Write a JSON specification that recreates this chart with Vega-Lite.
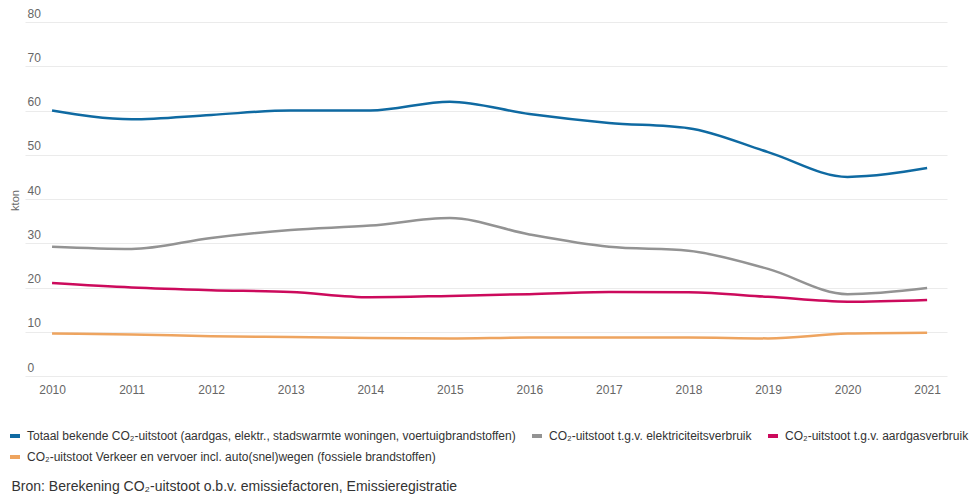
{
  "$schema": "https://vega.github.io/schema/vega-lite/v6.json",
  "width": 922,
  "height": 354,
  "autosize": {"type": "none"},
  "padding": {"left": 25, "top": 22, "right": 31, "bottom": 121},
  "background": "white",
  "config": {
    "font": "Liberation Sans",
    "view": {"stroke": null}
  },
  "data": {
    "values": [
      {"jaar": 2010, "reeks": "Totaal bekende CO₂-uitstoot (aardgas, elektr., stadswarmte woningen, voertuigbrandstoffen)", "kton": 60.0},
      {"jaar": 2011, "reeks": "Totaal bekende CO₂-uitstoot (aardgas, elektr., stadswarmte woningen, voertuigbrandstoffen)", "kton": 58.0},
      {"jaar": 2012, "reeks": "Totaal bekende CO₂-uitstoot (aardgas, elektr., stadswarmte woningen, voertuigbrandstoffen)", "kton": 59.0},
      {"jaar": 2013, "reeks": "Totaal bekende CO₂-uitstoot (aardgas, elektr., stadswarmte woningen, voertuigbrandstoffen)", "kton": 60.0},
      {"jaar": 2014, "reeks": "Totaal bekende CO₂-uitstoot (aardgas, elektr., stadswarmte woningen, voertuigbrandstoffen)", "kton": 60.0},
      {"jaar": 2015, "reeks": "Totaal bekende CO₂-uitstoot (aardgas, elektr., stadswarmte woningen, voertuigbrandstoffen)", "kton": 62.0},
      {"jaar": 2016, "reeks": "Totaal bekende CO₂-uitstoot (aardgas, elektr., stadswarmte woningen, voertuigbrandstoffen)", "kton": 59.2},
      {"jaar": 2017, "reeks": "Totaal bekende CO₂-uitstoot (aardgas, elektr., stadswarmte woningen, voertuigbrandstoffen)", "kton": 57.2},
      {"jaar": 2018, "reeks": "Totaal bekende CO₂-uitstoot (aardgas, elektr., stadswarmte woningen, voertuigbrandstoffen)", "kton": 56.0},
      {"jaar": 2019, "reeks": "Totaal bekende CO₂-uitstoot (aardgas, elektr., stadswarmte woningen, voertuigbrandstoffen)", "kton": 50.6},
      {"jaar": 2020, "reeks": "Totaal bekende CO₂-uitstoot (aardgas, elektr., stadswarmte woningen, voertuigbrandstoffen)", "kton": 45.0},
      {"jaar": 2021, "reeks": "Totaal bekende CO₂-uitstoot (aardgas, elektr., stadswarmte woningen, voertuigbrandstoffen)", "kton": 47.0},
      {"jaar": 2010, "reeks": "CO₂-uitstoot t.g.v. elektriciteitsverbruik", "kton": 29.2},
      {"jaar": 2011, "reeks": "CO₂-uitstoot t.g.v. elektriciteitsverbruik", "kton": 28.7},
      {"jaar": 2012, "reeks": "CO₂-uitstoot t.g.v. elektriciteitsverbruik", "kton": 31.2},
      {"jaar": 2013, "reeks": "CO₂-uitstoot t.g.v. elektriciteitsverbruik", "kton": 33.0},
      {"jaar": 2014, "reeks": "CO₂-uitstoot t.g.v. elektriciteitsverbruik", "kton": 34.0},
      {"jaar": 2015, "reeks": "CO₂-uitstoot t.g.v. elektriciteitsverbruik", "kton": 35.7},
      {"jaar": 2016, "reeks": "CO₂-uitstoot t.g.v. elektriciteitsverbruik", "kton": 32.0},
      {"jaar": 2017, "reeks": "CO₂-uitstoot t.g.v. elektriciteitsverbruik", "kton": 29.2},
      {"jaar": 2018, "reeks": "CO₂-uitstoot t.g.v. elektriciteitsverbruik", "kton": 28.3},
      {"jaar": 2019, "reeks": "CO₂-uitstoot t.g.v. elektriciteitsverbruik", "kton": 24.2},
      {"jaar": 2020, "reeks": "CO₂-uitstoot t.g.v. elektriciteitsverbruik", "kton": 18.5},
      {"jaar": 2021, "reeks": "CO₂-uitstoot t.g.v. elektriciteitsverbruik", "kton": 19.9},
      {"jaar": 2010, "reeks": "CO₂-uitstoot t.g.v. aardgasverbruik", "kton": 21.0},
      {"jaar": 2011, "reeks": "CO₂-uitstoot t.g.v. aardgasverbruik", "kton": 20.0},
      {"jaar": 2012, "reeks": "CO₂-uitstoot t.g.v. aardgasverbruik", "kton": 19.4},
      {"jaar": 2013, "reeks": "CO₂-uitstoot t.g.v. aardgasverbruik", "kton": 19.0},
      {"jaar": 2014, "reeks": "CO₂-uitstoot t.g.v. aardgasverbruik", "kton": 17.8},
      {"jaar": 2015, "reeks": "CO₂-uitstoot t.g.v. aardgasverbruik", "kton": 18.1},
      {"jaar": 2016, "reeks": "CO₂-uitstoot t.g.v. aardgasverbruik", "kton": 18.5},
      {"jaar": 2017, "reeks": "CO₂-uitstoot t.g.v. aardgasverbruik", "kton": 19.0},
      {"jaar": 2018, "reeks": "CO₂-uitstoot t.g.v. aardgasverbruik", "kton": 18.9},
      {"jaar": 2019, "reeks": "CO₂-uitstoot t.g.v. aardgasverbruik", "kton": 17.9},
      {"jaar": 2020, "reeks": "CO₂-uitstoot t.g.v. aardgasverbruik", "kton": 16.8},
      {"jaar": 2021, "reeks": "CO₂-uitstoot t.g.v. aardgasverbruik", "kton": 17.2},
      {"jaar": 2010, "reeks": "CO₂-uitstoot Verkeer en vervoer incl. auto(snel)wegen (fossiele brandstoffen)", "kton": 9.6},
      {"jaar": 2011, "reeks": "CO₂-uitstoot Verkeer en vervoer incl. auto(snel)wegen (fossiele brandstoffen)", "kton": 9.4},
      {"jaar": 2012, "reeks": "CO₂-uitstoot Verkeer en vervoer incl. auto(snel)wegen (fossiele brandstoffen)", "kton": 9.0},
      {"jaar": 2013, "reeks": "CO₂-uitstoot Verkeer en vervoer incl. auto(snel)wegen (fossiele brandstoffen)", "kton": 8.8},
      {"jaar": 2014, "reeks": "CO₂-uitstoot Verkeer en vervoer incl. auto(snel)wegen (fossiele brandstoffen)", "kton": 8.6},
      {"jaar": 2015, "reeks": "CO₂-uitstoot Verkeer en vervoer incl. auto(snel)wegen (fossiele brandstoffen)", "kton": 8.5},
      {"jaar": 2016, "reeks": "CO₂-uitstoot Verkeer en vervoer incl. auto(snel)wegen (fossiele brandstoffen)", "kton": 8.7},
      {"jaar": 2017, "reeks": "CO₂-uitstoot Verkeer en vervoer incl. auto(snel)wegen (fossiele brandstoffen)", "kton": 8.7},
      {"jaar": 2018, "reeks": "CO₂-uitstoot Verkeer en vervoer incl. auto(snel)wegen (fossiele brandstoffen)", "kton": 8.7},
      {"jaar": 2019, "reeks": "CO₂-uitstoot Verkeer en vervoer incl. auto(snel)wegen (fossiele brandstoffen)", "kton": 8.5},
      {"jaar": 2020, "reeks": "CO₂-uitstoot Verkeer en vervoer incl. auto(snel)wegen (fossiele brandstoffen)", "kton": 9.6},
      {"jaar": 2021, "reeks": "CO₂-uitstoot Verkeer en vervoer incl. auto(snel)wegen (fossiele brandstoffen)", "kton": 9.8}
    ]
  },
  "mark": {"type": "line", "interpolate": "monotone", "strokeWidth": 2.5},
  "encoding": {
    "x": {
      "field": "jaar",
      "type": "quantitative",
      "scale": {"domain": [2009.66, 2021.25], "nice": false, "zero": false},
      "axis": {
        "values": [2010, 2011, 2012, 2013, 2014, 2015, 2016, 2017, 2018, 2019, 2020, 2021],
        "format": "d",
        "grid": false,
        "domain": false,
        "ticks": false,
        "tickSize": 0,
        "labelFlush": false,
        "labelPadding": 8,
        "labelFontSize": 12,
        "labelColor": "#666666",
        "title": "Bron: Berekening CO₂-uitstoot o.b.v. emissiefactoren, Emissieregistratie",
        "titleX": -14,
        "titleY": 110,
        "titleAlign": "left",
        "titleAnchor": "start",
        "titleBaseline": "middle",
        "titleFontSize": 14,
        "titleFontWeight": "normal",
        "titleColor": "#333333"
      }
    },
    "y": {
      "field": "kton",
      "type": "quantitative",
      "scale": {"domain": [0, 80], "nice": false},
      "axis": {
        "values": [0, 10, 20, 30, 40, 50, 60, 70, 80],
        "grid": true,
        "gridColor": "#ebebeb",
        "gridWidth": 1,
        "domain": false,
        "ticks": false,
        "tickSize": 0,
        "labelAlign": "left",
        "labelBaseline": "bottom",
        "labelOffset": -2,
        "labelPadding": -2,
        "labelFontSize": 12,
        "labelColor": "#666666",
        "title": "kton",
        "titleX": -10,
        "titleY": 178,
        "titleAngle": -90,
        "titleAlign": "center",
        "titleBaseline": "middle",
        "titleFontSize": 11,
        "titleFontWeight": "normal",
        "titleColor": "#666666"
      }
    },
    "color": {
      "field": "reeks",
      "type": "nominal",
      "sort": null,
      "scale": {
        "domain": [
          "Totaal bekende CO₂-uitstoot (aardgas, elektr., stadswarmte woningen, voertuigbrandstoffen)",
          "CO₂-uitstoot t.g.v. elektriciteitsverbruik",
          "CO₂-uitstoot t.g.v. aardgasverbruik",
          "CO₂-uitstoot Verkeer en vervoer incl. auto(snel)wegen (fossiele brandstoffen)"
        ],
        "range": ["#0f6aa2", "#939393", "#cc0a5c", "#eea45f"]
      },
      "legend": {
        "orient": "none",
        "legendX": -17,
        "legendY": 407,
        "direction": "horizontal",
        "columns": 3,
        "title": null,
        "symbolType": "stroke",
        "symbolSize": 100,
        "symbolStrokeWidth": 4,
        "labelFontSize": 12,
        "labelColor": "#333333",
        "labelLimit": 0,
        "labelOffset": 5,
        "columnPadding": 8,
        "rowPadding": 5
      }
    }
  }
}
